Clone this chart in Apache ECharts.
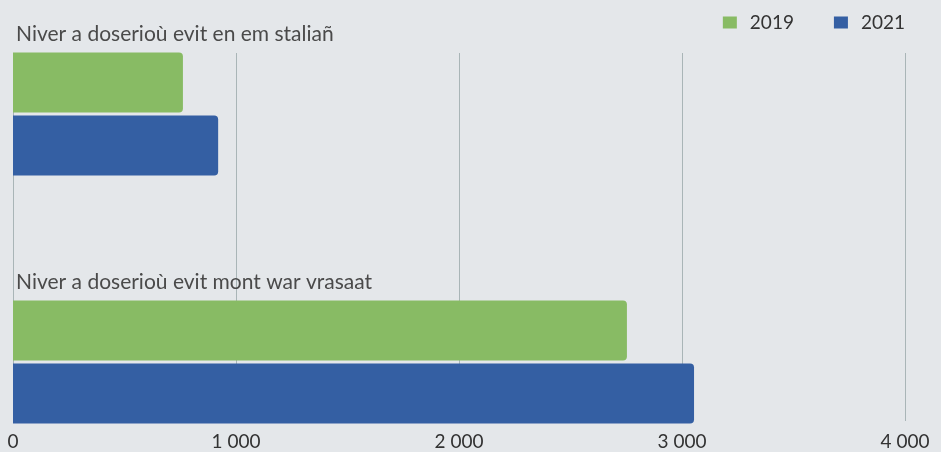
<!DOCTYPE html>
<html>
<head>
<meta charset="utf-8">
<script src="https://cdn.jsdelivr.net/npm/echarts@6/dist/echarts.min.js"></script>
<style>
html,body{margin:0;padding:0;background:#e4e7ea;}
#chart{width:941px;height:452px;}
</style>
</head>
<body>
<div id="chart"></div>
<script>
const categories = ['Niver a doserioù evit en em staliañ', 'Niver a doserioù evit mont war vrasaat'];
const seriesNames = ['2019', '2021'];
const values2019 = [762, 2753];
const values2021 = [920, 3054];
const xTicks = { min: 0, max: 4000, interval: 1000 };

const font = 'Lato, "Noto Sans", sans-serif';
const chart = echarts.init(document.getElementById('chart'));
chart.setOption({
  backgroundColor: '#e4e7ea',
  animation: false,
  legend: {
    data: seriesNames,
    right: 31, top: 8,
    icon: 'rect', itemWidth: 14, itemHeight: 12, itemGap: 40,
    textStyle: { fontSize: 19, color: '#333', fontFamily: font, padding: [0, 0, 0, 8] }
  },
  grid: [
    { left: 13, right: 36, top: 53, bottom: 31 },
    { left: 13, right: 36, top: 114, bottom: 90 }
  ],
  xAxis: [
    {
      gridIndex: 0, type: 'value', min: xTicks.min, max: xTicks.max, interval: xTicks.interval,
      axisLine: { show: false }, axisTick: { show: false },
      splitLine: { show: true, lineStyle: { color: '#a9b5b7', width: 1 } },
      axisLabel: {
        margin: 11, fontSize: 19, color: '#333', fontFamily: font,
        formatter: v => String(v).replace(/\B(?=(\d{3})+(?!\d))/g, ' ')
      }
    },
    { gridIndex: 1, type: 'value', min: xTicks.min, max: xTicks.max, show: false }
  ],
  yAxis: [
    { gridIndex: 0, type: 'category', data: categories, show: false },
    { gridIndex: 1, type: 'category', data: categories, inverse: true, boundaryGap: false, show: false }
  ],
  series: [
    {
      name: seriesNames[0], type: 'bar', xAxisIndex: 1, yAxisIndex: 1,
      data: values2019, barWidth: 60, barGap: '5%',
      itemStyle: { color: '#88bb64', borderRadius: [0, 4, 4, 0] },
      label: {
        show: true, formatter: '{b}', position: [3, -29],
        fontSize: 21, color: '#4a4a4a', fontFamily: font
      }
    },
    {
      name: seriesNames[1], type: 'bar', xAxisIndex: 1, yAxisIndex: 1,
      data: values2021, barWidth: 60, barGap: '5%',
      itemStyle: { color: '#345fa3', borderRadius: [0, 4, 4, 0] }
    }
  ]
});
</script>
</body>
</html>
